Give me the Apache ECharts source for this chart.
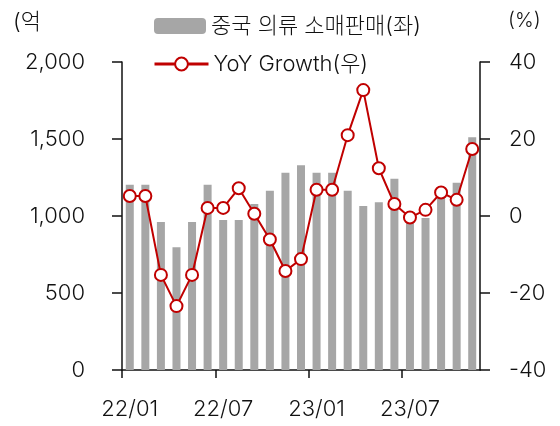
<!DOCTYPE html>
<html>
<head>
<meta charset="utf-8">
<script src="https://cdn.jsdelivr.net/npm/echarts@6/dist/echarts.min.js"></script>
<style>
  html, body { margin: 0; padding: 0; background: #fff; }
  #chart { width: 560px; height: 426px; }
</style>
</head>
<body>
<div id="chart"></div>
<script>
const months = ['22/01', '22/02', '22/03', '22/04', '22/05', '22/06', '22/07', '22/08', '22/09', '22/10', '22/11', '22/12',
  '23/01', '23/02', '23/03', '23/04', '23/05', '23/06', '23/07', '23/08', '23/09', '23/10', '23/11']
// month boundaries, used only to place the x ticks between bars
const boundaries = months.concat(['23/12'])
// 중국 의류 소매판매 (억 위안), left axis
const retailSales = [1203, 1203, 961, 797, 961, 1203, 974, 974, 1078, 1164, 1281, 1329,
  1281, 1281, 1164, 1065, 1089, 1242, 996, 987, 1125, 1216, 1511]
// YoY growth (%), right axis
const yoyGrowth = [5.2, 5.2, -15.3, -23.4, -15.3, 2.1, 2.1, 7.2, 0.6, -6.1, -14.3, -11.2,
  6.8, 6.8, 21.0, 32.7, 12.4, 3.1, -0.4, 1.6, 6.1, 4.2, 17.4]

const barName = '중국 의류 소매판매(좌)'
const lineName = 'YoY Growth(우)'

const FONT = 'Inter, "Noto Sans CJK KR", sans-serif'
const WEIGHT = 300
const INK = '#111111'
const RED = '#c00000'

const chart = echarts.init(document.getElementById('chart'))

const axisLine = { show: true, lineStyle: { color: INK, width: 1.5 } }
const axisTick = { show: true, inside: false, length: 10, lineStyle: { color: INK, width: 1.5 } }
const labelStyle = { fontSize: 22, color: INK, fontFamily: FONT, fontWeight: WEIGHT }

chart.setOption({
  animation: false,
  backgroundColor: '#ffffff',
  textStyle: { fontFamily: FONT },
  grid: { left: 122, right: 80, top: 62, bottom: 56 },
  legend: [
    {
      data: [barName],
      left: 149,
      top: 10,
      itemWidth: 52,
      itemHeight: 16,
      textStyle: Object.assign({ lineHeight: 22 }, labelStyle),
    },
    {
      data: [lineName],
      left: 148,
      top: 48,
      itemWidth: 54,
      itemHeight: 16,
      textStyle: Object.assign({ lineHeight: 22 }, labelStyle),
      lineStyle: { width: 3 },
    },
  ],
  graphic: [
    { type: 'text', left: 13, top: 11, style: { text: '(억', font: WEIGHT + ' 22px ' + FONT, fill: INK } },
    { type: 'text', left: 508, top: 11, style: { text: '(%)', font: WEIGHT + ' 20px ' + FONT, fill: INK } },
  ],
  xAxis: [
    {
      type: 'category',
      data: months,
      boundaryGap: true,
      axisLine: axisLine,
      axisTick: { show: false },
      axisLabel: Object.assign({ interval: 5, margin: 28 }, labelStyle),
      splitLine: { show: false },
    },
    {
      type: 'category',
      data: boundaries,
      boundaryGap: false,
      position: 'bottom',
      axisLine: { show: false, onZero: false },
      axisTick: { show: true, interval: 5, length: 8, lineStyle: { color: INK, width: 1.5 } },
      axisLabel: { show: false },
      splitLine: { show: false },
    },
  ],
  yAxis: [
    {
      type: 'value',
      min: 0,
      max: 2000,
      interval: 500,
      axisLine: axisLine,
      axisTick: axisTick,
      splitLine: { show: false },
      axisLabel: Object.assign({
        margin: 37,
        formatter: v => v.toLocaleString('en-US'),
      }, labelStyle),
    },
    {
      type: 'value',
      min: -40,
      max: 40,
      interval: 20,
      axisLine: axisLine,
      axisTick: axisTick,
      splitLine: { show: false },
      axisLabel: Object.assign({ margin: 29 }, labelStyle),
    },
  ],
  series: [
    {
      name: barName,
      type: 'bar',
      data: retailSales,
      barWidth: 8,
      itemStyle: { color: '#a6a6a6' },
    },
    {
      name: lineName,
      type: 'line',
      yAxisIndex: 1,
      data: yoyGrowth,
      z: 5,
      symbol: 'circle',
      symbolSize: 12,
      showAllSymbol: true,
      lineStyle: { color: RED, width: 2 },
      itemStyle: { color: '#ffffff', borderColor: RED, borderWidth: 2 },
    },
  ],
})
</script>
</body>
</html>
